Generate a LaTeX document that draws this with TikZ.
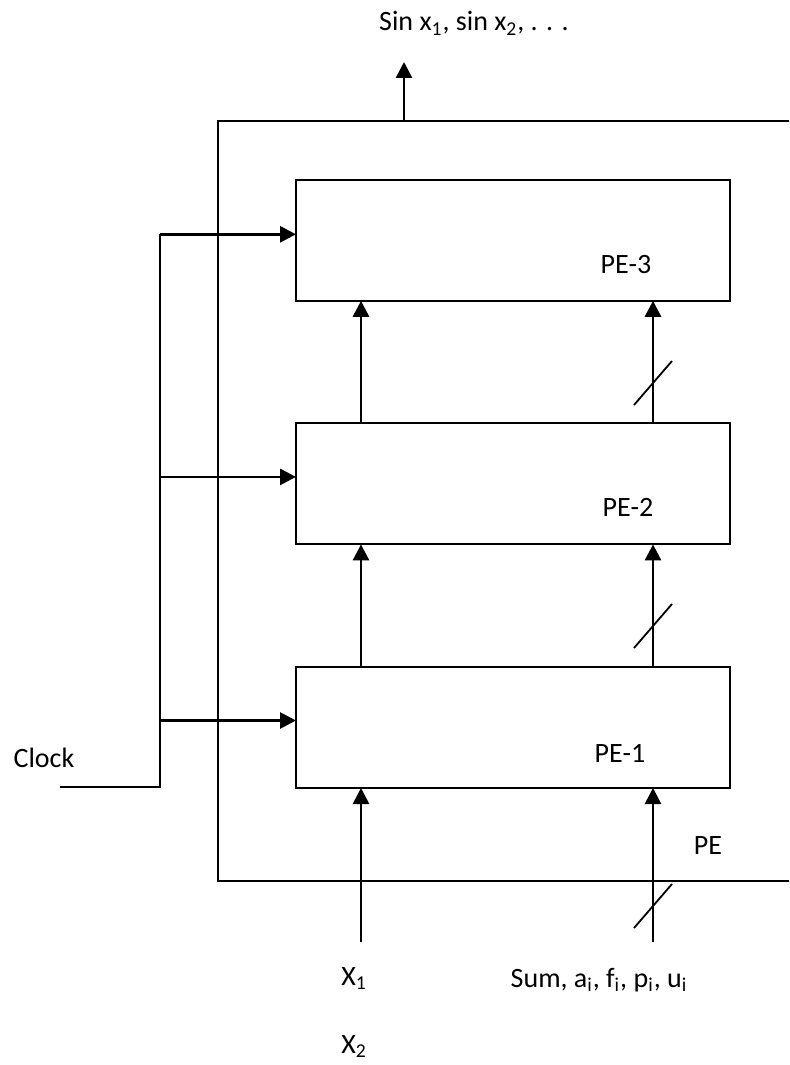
\documentclass[tikz,border=0pt]{standalone}
\usepackage{fontspec}
\setmainfont{Carlito}
\usetikzlibrary{positioning,arrows.meta,calc}

\begin{document}
\begin{tikzpicture}[
    x=0.5pt, y=-0.5pt,
    font=\fontsize{14pt}{16pt}\selectfont,
    pebox/.style={draw, line width=1pt, minimum width=217pt, minimum height=60.5pt, outer sep=0pt},
    txt/.style={anchor=base, inner sep=0pt},
    sig/.style={line width=1.4pt, -{Triangle[length=8pt,width=8pt]}},
    wire/.style={line width=1.2pt},
    frame/.style={line width=1pt},
    node distance=61.3pt,
  ]
    \useasboundingbox (0,0) rectangle (789,1065);

    \node[pebox] (pe1) at (513,727.5) {};
    \node[pebox, above=of pe1] (pe2) {};
    \node[pebox, above=of pe2] (pe3) {};

    \node[txt] (pe1lbl) at (620,762) {PE-1};
    \node[txt] (pe2lbl) at (628,516) {PE-2};
    \node[txt] (pe3lbl) at (626,273) {PE-3};
    \node[txt] (pelbl) at (708,854) {PE};

    \draw[frame] (789,121) -- (218,121) -- (218,881) -- (789,881);

    \coordinate (outbase) at (404,121);
    \coordinate (outtip) at (404,62);
    \node[txt] (outlbl) at (474,31) {Sin x\textsubscript{1}, sin x\textsubscript{2}, . . .};
    \draw[sig] (outbase) -- (outtip);

    \coordinate (in1) at (361,942);
    \coordinate (in2) at (653,942);
    \node[txt] (x1lbl) at (354,985) {X\textsubscript{1}};
    \node[txt] (x2lbl) at (354,1053) {X\textsubscript{2}};
    \node[txt] (sumlbl) at (599,987) {Sum, a\textsubscript{i}, f\textsubscript{i}, p\textsubscript{i}, u\textsubscript{i}};

    \draw[sig] (in1) -- (in1 |- pe1.south);
    \draw[sig] (in2) -- (in2 |- pe1.south);
    \draw[sig] (in1 |- pe1.north) -- (in1 |- pe2.south);
    \draw[sig] (in2 |- pe1.north) -- (in2 |- pe2.south);
    \draw[sig] (in1 |- pe2.north) -- (in1 |- pe3.south);
    \draw[sig] (in2 |- pe2.north) -- (in2 |- pe3.south);

    \foreach \y in {383,626,906}
      \draw[line width=0.9pt] (653,\y) ++(-19,22) -- ++(38,-44);

    \node[txt] (clock) at (44,767) {Clock};
    \coordinate (clkin) at (60,787);
    \coordinate (clkbus) at (160,787);
    \coordinate (c1) at ([yshift=3.5pt]pe1.west);
    \coordinate (c2) at ([yshift=3.5pt]pe2.west);
    \coordinate (c3) at ([yshift=3pt]pe3.west);
    \draw[wire] (clkin) -| (clkbus |- c3);
    \foreach \k in {1,2,3}
      \draw[sig] (clkbus |- c\k) -- (c\k);
  \end{tikzpicture}
\end{document}
